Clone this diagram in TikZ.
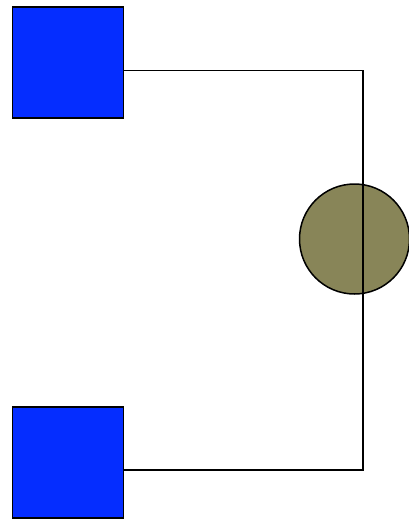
\documentclass[tikz,border=0pt]{standalone}
\definecolor{sqblue}{RGB}{5,45,255}
\definecolor{olive}{RGB}{136,133,88}
\begin{document}
\begin{tikzpicture}[x=1pt,y=-1pt,
  sq/.style={draw=black,line width=1.5pt,fill=sqblue,minimum size=111pt,inner sep=0pt,outer sep=0pt},
  ball/.style={circle,draw=black,line width=1.5pt,fill=olive,minimum size=110pt,inner sep=0pt},
  wire/.style={draw=black,line width=1.4pt}]
\useasboundingbox (0,0) rectangle (409,520);
\node[sq] (a) at (68,62.5) {};
\node[sq] (b) at (68,462.5) {};
\node[ball] (c) at (354.5,239) {};
\coordinate (c1) at (363,70.5);
\coordinate (c2) at (363,470);
\draw[wire] (a.east |- c1) -- (c1) -- (c2) -- (b.east |- c2);
\end{tikzpicture}
\end{document}
